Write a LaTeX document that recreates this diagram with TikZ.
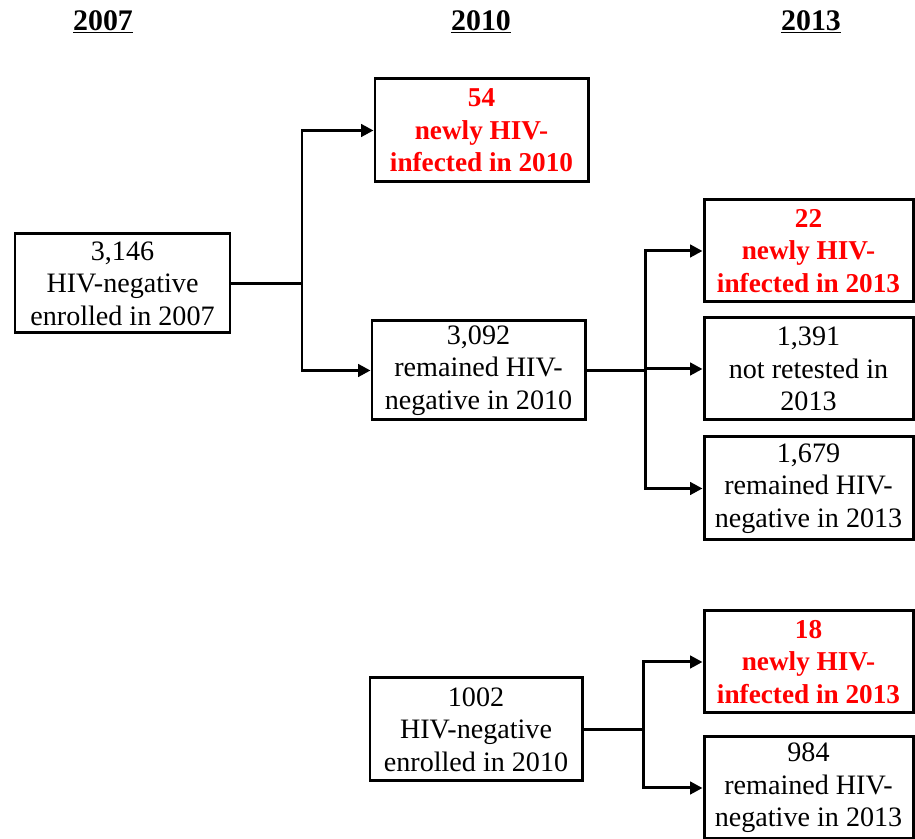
\documentclass[tikz,border=0pt]{standalone}
\usepackage{fontspec}
\setmainfont{Liberation Serif}
\usepackage{tikz}
\usetikzlibrary{arrows.meta}
\usetikzlibrary{positioning}

\tikzset{
    box/.style={draw, line width=1.7pt, align=center, inner sep=0pt,
        font=\fontsize{16}{18.5}\selectfont},
    newinf/.style={box, text=red, font=\fontsize{15.5}{18.5}\selectfont\bfseries},
    link/.style={line width=1.7pt},
    arr/.style={link, -{Triangle[length=7pt,width=7pt]}},
    year/.style={font=\fontsize{17}{20}\selectfont\bfseries}
}

\begin{document}
\begin{tikzpicture}
    \useasboundingbox (0, 0) rectangle (18.3, 16.78);

    % column headers
    \node[year] (y2007) at (2.06, 16.34) {\underline{2007}};
    \node[year] (y2010) at (9.62, 16.34) {\underline{2010}};
    \node[year] (y2013) at (16.22, 16.34) {\underline{2013}};

    % 2007 cohort
    \node[box, minimum width=4.3cm, minimum height=1.98cm] (enrol07) at (2.45, 11.11) {3,146\\HIV-negative\\enrolled in 2007};
    \node[newinf, minimum width=4.26cm, minimum height=2.06cm] (inf10) at (9.63, 14.17) {54\\newly HIV-\\infected in 2010};
    \node[box, minimum width=4.26cm, minimum height=1.98cm] (neg10) at (9.57, 9.37) {3,092\\remained HIV-\\negative in 2010};
    \node[newinf, minimum width=4.18cm, minimum height=2.04cm] (inf13a) at (16.17, 11.76) {22\\newly HIV-\\infected in 2013};
    \node[box, minimum width=4.18cm, minimum height=2.04cm] (notest) at (16.17, 9.40) {1,391\\not retested in\\2013};
    \node[box, minimum width=4.18cm, minimum height=2.06cm] (neg13a) at (16.17, 7.01) {1,679\\remained HIV-\\negative in 2013};

    % 2010 cohort
    \node[box, minimum width=4.24cm, minimum height=2.06cm] (enrol10) at (9.52, 2.19) {1002\\HIV-negative\\enrolled in 2010};
    \node[newinf, minimum width=4.18cm, minimum height=2.04cm] (inf13b) at (16.17, 3.54) {18\\newly HIV-\\infected in 2013};
    \node[box, minimum width=4.18cm, minimum height=2.04cm] (neg13b) at (16.17, 1.02) {984\\remained HIV-\\negative in 2013};

    \coordinate (splitA) at (6.04, 11.11);
    \coordinate (splitB) at (12.9, 9.37);
    \coordinate (splitC) at (12.86, 2.19);

    \draw[link] (enrol07.east) -- (splitA);
    \draw[arr] (splitA) |- (inf10.west);
    \draw[arr] (splitA) |- (neg10.west);

    \draw[link] (neg10.east) -- (splitB);
    \draw[arr] (splitB) |- (inf13a.west);
    \draw[arr] (splitB) |- (notest.west);
    \draw[arr] (splitB) |- (neg13a.west);

    \draw[link] (enrol10.east) -- (splitC);
    \draw[arr] (splitC) |- (inf13b.west);
    \draw[arr] (splitC) |- (neg13b.west);
\end{tikzpicture}
\end{document}
